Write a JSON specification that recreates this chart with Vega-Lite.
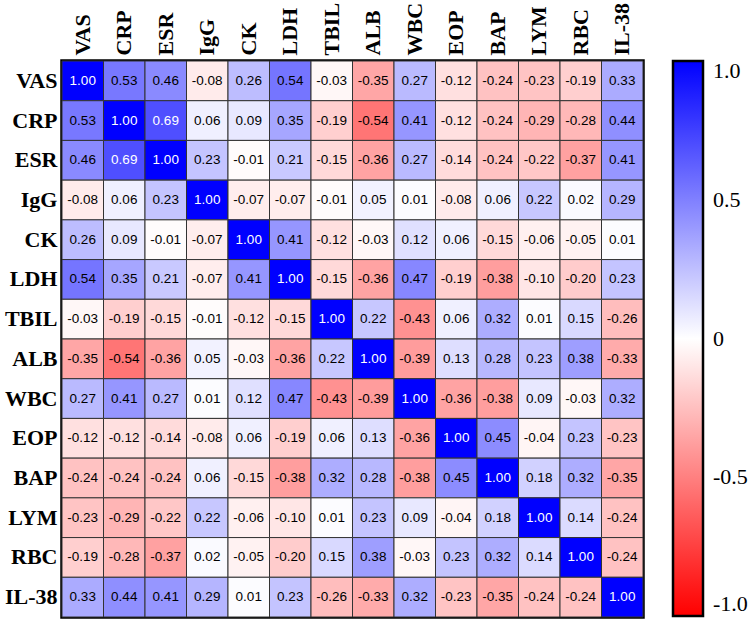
{
  "$schema": "https://vega.github.io/schema/vega-lite/v6.json",
  "width": 581,
  "height": 556,
  "autosize": "none",
  "padding": {"left": 62, "top": 61, "right": 110, "bottom": 12},
  "background": "white",
  "config": {
    "font": "Liberation Serif",
    "view": {"stroke": "black", "strokeWidth": 3.5},
    "axis": {"domain": false, "ticks": false, "grid": false, "title": null, "labelColor": "black", "labelFont": "Liberation Serif", "labelFontWeight": "bold"},
    "legend": {"labelFont": "Liberation Serif", "labelFontSize": 22, "labelColor": "black", "labelFontWeight": "normal"}
  },
  "data": {"values": [
    {"r":"VAS","c":"VAS","v":1.00},{"r":"VAS","c":"CRP","v":0.53},{"r":"VAS","c":"ESR","v":0.46},{"r":"VAS","c":"IgG","v":-0.08},{"r":"VAS","c":"CK","v":0.26},{"r":"VAS","c":"LDH","v":0.54},{"r":"VAS","c":"TBIL","v":-0.03},{"r":"VAS","c":"ALB","v":-0.35},{"r":"VAS","c":"WBC","v":0.27},{"r":"VAS","c":"EOP","v":-0.12},{"r":"VAS","c":"BAP","v":-0.24},{"r":"VAS","c":"LYM","v":-0.23},{"r":"VAS","c":"RBC","v":-0.19},{"r":"VAS","c":"IL-38","v":0.33},
    {"r":"CRP","c":"VAS","v":0.53},{"r":"CRP","c":"CRP","v":1.00},{"r":"CRP","c":"ESR","v":0.69},{"r":"CRP","c":"IgG","v":0.06},{"r":"CRP","c":"CK","v":0.09},{"r":"CRP","c":"LDH","v":0.35},{"r":"CRP","c":"TBIL","v":-0.19},{"r":"CRP","c":"ALB","v":-0.54},{"r":"CRP","c":"WBC","v":0.41},{"r":"CRP","c":"EOP","v":-0.12},{"r":"CRP","c":"BAP","v":-0.24},{"r":"CRP","c":"LYM","v":-0.29},{"r":"CRP","c":"RBC","v":-0.28},{"r":"CRP","c":"IL-38","v":0.44},
    {"r":"ESR","c":"VAS","v":0.46},{"r":"ESR","c":"CRP","v":0.69},{"r":"ESR","c":"ESR","v":1.00},{"r":"ESR","c":"IgG","v":0.23},{"r":"ESR","c":"CK","v":-0.01},{"r":"ESR","c":"LDH","v":0.21},{"r":"ESR","c":"TBIL","v":-0.15},{"r":"ESR","c":"ALB","v":-0.36},{"r":"ESR","c":"WBC","v":0.27},{"r":"ESR","c":"EOP","v":-0.14},{"r":"ESR","c":"BAP","v":-0.24},{"r":"ESR","c":"LYM","v":-0.22},{"r":"ESR","c":"RBC","v":-0.37},{"r":"ESR","c":"IL-38","v":0.41},
    {"r":"IgG","c":"VAS","v":-0.08},{"r":"IgG","c":"CRP","v":0.06},{"r":"IgG","c":"ESR","v":0.23},{"r":"IgG","c":"IgG","v":1.00},{"r":"IgG","c":"CK","v":-0.07},{"r":"IgG","c":"LDH","v":-0.07},{"r":"IgG","c":"TBIL","v":-0.01},{"r":"IgG","c":"ALB","v":0.05},{"r":"IgG","c":"WBC","v":0.01},{"r":"IgG","c":"EOP","v":-0.08},{"r":"IgG","c":"BAP","v":0.06},{"r":"IgG","c":"LYM","v":0.22},{"r":"IgG","c":"RBC","v":0.02},{"r":"IgG","c":"IL-38","v":0.29},
    {"r":"CK","c":"VAS","v":0.26},{"r":"CK","c":"CRP","v":0.09},{"r":"CK","c":"ESR","v":-0.01},{"r":"CK","c":"IgG","v":-0.07},{"r":"CK","c":"CK","v":1.00},{"r":"CK","c":"LDH","v":0.41},{"r":"CK","c":"TBIL","v":-0.12},{"r":"CK","c":"ALB","v":-0.03},{"r":"CK","c":"WBC","v":0.12},{"r":"CK","c":"EOP","v":0.06},{"r":"CK","c":"BAP","v":-0.15},{"r":"CK","c":"LYM","v":-0.06},{"r":"CK","c":"RBC","v":-0.05},{"r":"CK","c":"IL-38","v":0.01},
    {"r":"LDH","c":"VAS","v":0.54},{"r":"LDH","c":"CRP","v":0.35},{"r":"LDH","c":"ESR","v":0.21},{"r":"LDH","c":"IgG","v":-0.07},{"r":"LDH","c":"CK","v":0.41},{"r":"LDH","c":"LDH","v":1.00},{"r":"LDH","c":"TBIL","v":-0.15},{"r":"LDH","c":"ALB","v":-0.36},{"r":"LDH","c":"WBC","v":0.47},{"r":"LDH","c":"EOP","v":-0.19},{"r":"LDH","c":"BAP","v":-0.38},{"r":"LDH","c":"LYM","v":-0.10},{"r":"LDH","c":"RBC","v":-0.20},{"r":"LDH","c":"IL-38","v":0.23},
    {"r":"TBIL","c":"VAS","v":-0.03},{"r":"TBIL","c":"CRP","v":-0.19},{"r":"TBIL","c":"ESR","v":-0.15},{"r":"TBIL","c":"IgG","v":-0.01},{"r":"TBIL","c":"CK","v":-0.12},{"r":"TBIL","c":"LDH","v":-0.15},{"r":"TBIL","c":"TBIL","v":1.00},{"r":"TBIL","c":"ALB","v":0.22},{"r":"TBIL","c":"WBC","v":-0.43},{"r":"TBIL","c":"EOP","v":0.06},{"r":"TBIL","c":"BAP","v":0.32},{"r":"TBIL","c":"LYM","v":0.01},{"r":"TBIL","c":"RBC","v":0.15},{"r":"TBIL","c":"IL-38","v":-0.26},
    {"r":"ALB","c":"VAS","v":-0.35},{"r":"ALB","c":"CRP","v":-0.54},{"r":"ALB","c":"ESR","v":-0.36},{"r":"ALB","c":"IgG","v":0.05},{"r":"ALB","c":"CK","v":-0.03},{"r":"ALB","c":"LDH","v":-0.36},{"r":"ALB","c":"TBIL","v":0.22},{"r":"ALB","c":"ALB","v":1.00},{"r":"ALB","c":"WBC","v":-0.39},{"r":"ALB","c":"EOP","v":0.13},{"r":"ALB","c":"BAP","v":0.28},{"r":"ALB","c":"LYM","v":0.23},{"r":"ALB","c":"RBC","v":0.38},{"r":"ALB","c":"IL-38","v":-0.33},
    {"r":"WBC","c":"VAS","v":0.27},{"r":"WBC","c":"CRP","v":0.41},{"r":"WBC","c":"ESR","v":0.27},{"r":"WBC","c":"IgG","v":0.01},{"r":"WBC","c":"CK","v":0.12},{"r":"WBC","c":"LDH","v":0.47},{"r":"WBC","c":"TBIL","v":-0.43},{"r":"WBC","c":"ALB","v":-0.39},{"r":"WBC","c":"WBC","v":1.00},{"r":"WBC","c":"EOP","v":-0.36},{"r":"WBC","c":"BAP","v":-0.38},{"r":"WBC","c":"LYM","v":0.09},{"r":"WBC","c":"RBC","v":-0.03},{"r":"WBC","c":"IL-38","v":0.32},
    {"r":"EOP","c":"VAS","v":-0.12},{"r":"EOP","c":"CRP","v":-0.12},{"r":"EOP","c":"ESR","v":-0.14},{"r":"EOP","c":"IgG","v":-0.08},{"r":"EOP","c":"CK","v":0.06},{"r":"EOP","c":"LDH","v":-0.19},{"r":"EOP","c":"TBIL","v":0.06},{"r":"EOP","c":"ALB","v":0.13},{"r":"EOP","c":"WBC","v":-0.36},{"r":"EOP","c":"EOP","v":1.00},{"r":"EOP","c":"BAP","v":0.45},{"r":"EOP","c":"LYM","v":-0.04},{"r":"EOP","c":"RBC","v":0.23},{"r":"EOP","c":"IL-38","v":-0.23},
    {"r":"BAP","c":"VAS","v":-0.24},{"r":"BAP","c":"CRP","v":-0.24},{"r":"BAP","c":"ESR","v":-0.24},{"r":"BAP","c":"IgG","v":0.06},{"r":"BAP","c":"CK","v":-0.15},{"r":"BAP","c":"LDH","v":-0.38},{"r":"BAP","c":"TBIL","v":0.32},{"r":"BAP","c":"ALB","v":0.28},{"r":"BAP","c":"WBC","v":-0.38},{"r":"BAP","c":"EOP","v":0.45},{"r":"BAP","c":"BAP","v":1.00},{"r":"BAP","c":"LYM","v":0.18},{"r":"BAP","c":"RBC","v":0.32},{"r":"BAP","c":"IL-38","v":-0.35},
    {"r":"LYM","c":"VAS","v":-0.23},{"r":"LYM","c":"CRP","v":-0.29},{"r":"LYM","c":"ESR","v":-0.22},{"r":"LYM","c":"IgG","v":0.22},{"r":"LYM","c":"CK","v":-0.06},{"r":"LYM","c":"LDH","v":-0.10},{"r":"LYM","c":"TBIL","v":0.01},{"r":"LYM","c":"ALB","v":0.23},{"r":"LYM","c":"WBC","v":0.09},{"r":"LYM","c":"EOP","v":-0.04},{"r":"LYM","c":"BAP","v":0.18},{"r":"LYM","c":"LYM","v":1.00},{"r":"LYM","c":"RBC","v":0.14},{"r":"LYM","c":"IL-38","v":-0.24},
    {"r":"RBC","c":"VAS","v":-0.19},{"r":"RBC","c":"CRP","v":-0.28},{"r":"RBC","c":"ESR","v":-0.37},{"r":"RBC","c":"IgG","v":0.02},{"r":"RBC","c":"CK","v":-0.05},{"r":"RBC","c":"LDH","v":-0.20},{"r":"RBC","c":"TBIL","v":0.15},{"r":"RBC","c":"ALB","v":0.38},{"r":"RBC","c":"WBC","v":-0.03},{"r":"RBC","c":"EOP","v":0.23},{"r":"RBC","c":"BAP","v":0.32},{"r":"RBC","c":"LYM","v":0.14},{"r":"RBC","c":"RBC","v":1.00},{"r":"RBC","c":"IL-38","v":-0.24},
    {"r":"IL-38","c":"VAS","v":0.33},{"r":"IL-38","c":"CRP","v":0.44},{"r":"IL-38","c":"ESR","v":0.41},{"r":"IL-38","c":"IgG","v":0.29},{"r":"IL-38","c":"CK","v":0.01},{"r":"IL-38","c":"LDH","v":0.23},{"r":"IL-38","c":"TBIL","v":-0.26},{"r":"IL-38","c":"ALB","v":-0.33},{"r":"IL-38","c":"WBC","v":0.32},{"r":"IL-38","c":"EOP","v":-0.23},{"r":"IL-38","c":"BAP","v":-0.35},{"r":"IL-38","c":"LYM","v":-0.24},{"r":"IL-38","c":"RBC","v":-0.24},{"r":"IL-38","c":"IL-38","v":1.00}
  ]},
  "transform": [{"calculate": "(datum.v < 0 ? '-' : '') + format(abs(datum.v), '.2f')", "as": "label"}],
  "encoding": {
    "x": {"field": "c", "type": "nominal", "sort": ["VAS","CRP","ESR","IgG","CK","LDH","TBIL","ALB","WBC","EOP","BAP","LYM","RBC","IL-38"], "scale": {"paddingInner": 0, "paddingOuter": 0},
      "axis": {"orient": "top", "labelAngle": -90, "labelFontSize": 22, "labelPadding": 6}},
    "y": {"field": "r", "type": "nominal", "sort": ["VAS","CRP","ESR","IgG","CK","LDH","TBIL","ALB","WBC","EOP","BAP","LYM","RBC","IL-38"], "scale": {"paddingInner": 0, "paddingOuter": 0},
      "axis": {"orient": "left", "labelFontSize": 22, "labelPadding": 5}}
  },
  "layer": [
    {"mark": {"type": "rect", "stroke": "#333333", "strokeWidth": 1},
     "encoding": {"color": {"field": "v", "type": "quantitative",
        "scale": {"domain": [-1, 0, 1], "range": ["#ff0000", "#ffffff", "#0000ff"], "interpolate": "rgb"},
        "legend": {"title": null, "direction": "vertical", "orient": "right", "offset": 30, "padding": 0,
          "gradientLength": 555, "gradientThickness": 30, "gradientStrokeColor": "black", "gradientStrokeWidth": 2.5,
          "values": [-1, -0.5, 0, 0.5, 1], "labelFont": "Liberation Serif", "labelFontSize": 22, "labelColor": "black",
          "labelOffset": 10, "labelBaseline": "middle", "labelOverlap": false,
          "labelExpr": "datum.value == 0 ? '0' : (datum.value < 0 ? '-' : '') + format(abs(datum.value), '.1f')"}}}},
    {"mark": {"type": "text", "font": "Liberation Sans", "fontSize": 13.5},
     "encoding": {"text": {"field": "label", "type": "nominal"},
       "color": {"condition": {"test": "datum.v > 0.6", "value": "white"}, "value": "black"}}}
  ]
}
